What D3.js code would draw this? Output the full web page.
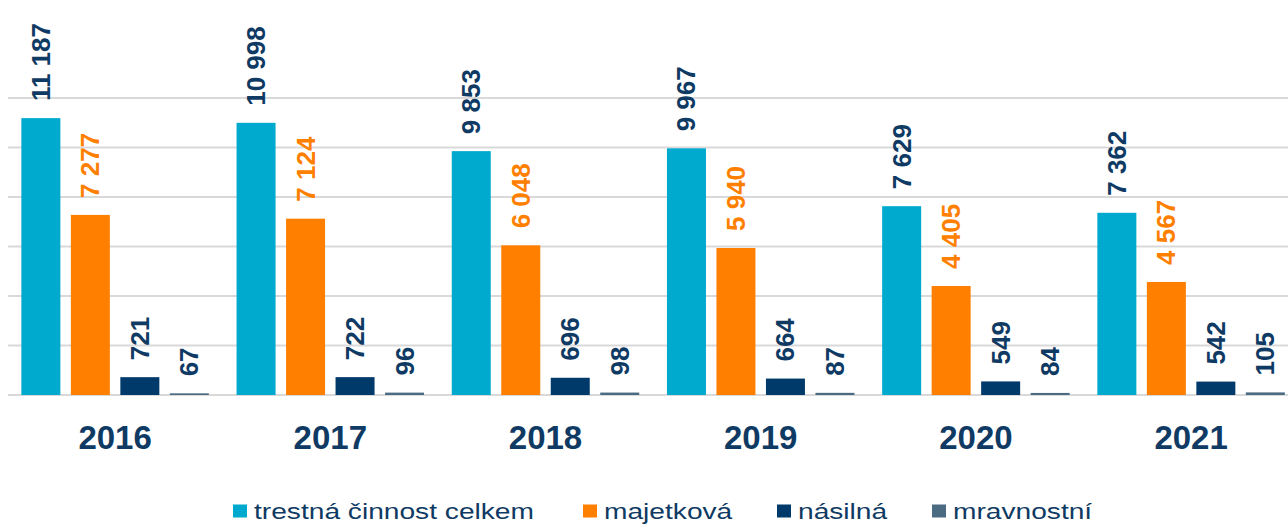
<!DOCTYPE html>
<html>
<head>
<meta charset="utf-8">
<script src="https://cdn.jsdelivr.net/npm/d3@7"></script>
<style>
  body { margin: 0; background: #fff; }
  text { font-family: "Liberation Sans", Arial, sans-serif; }
</style>
</head>
<body>
<svg id="chart" width="1288" height="525"></svg>
<script>
'use strict'

// data
var years = ['2016', '2017', '2018', '2019', '2020', '2021'];
var seriesNames = ['trestná činnost celkem', 'majetková', 'násilná', 'mravnostní'];
var celkem = [11187, 10998, 9853, 9967, 7629, 7362];
var majetkova = [7277, 7124, 6048, 5940, 4405, 4567];
var nasilna = [721, 722, 696, 664, 549, 542];
var mravnostni = [67, 96, 98, 87, 84, 105];
var yTicks = [0, 2000, 4000, 6000, 8000, 10000, 12000];

var barColors = ['#00a9ce', '#ff7f00', '#003a6b', '#4a6b82'];
var labelColors = ['#0f3a63', '#ff7f00', '#0f3a63', '#0f3a63'];
var textNavy = '#0f3a63';

var seriesValues = [celkem, majetkova, nasilna, mravnostni];

var svg = d3.select('#chart');

var x = d3.scaleBand()
  .domain(years)
  .range([7.5, 1298.7])
  .paddingInner(0)
  .paddingOuter(0);

var xs = d3.scaleBand()
  .domain(seriesNames)
  .range([0, x.bandwidth()])
  .paddingInner(0.212)
  .paddingOuter(0.28);

var y = d3.scaleLinear()
  .domain([0, 12000])
  .range([395, 98]);

// gridlines
svg.append('g')
  .selectAll('line')
  .data(yTicks)
  .enter()
  .append('line')
  .attr('x1', 8)
  .attr('x2', 1288)
  .attr('y1', function(d){ return y(d); })
  .attr('y2', function(d){ return y(d); })
  .attr('stroke', '#d9d9d9')
  .attr('stroke-width', 2);

// bars + labels
var group = svg.selectAll('g.year')
  .data(years)
  .enter()
  .append('g')
  .attr('class', 'year')
  .attr('transform', function(d){ return 'translate(' + x(d) + ',0)'; });

seriesNames.forEach(function(name, si){
  group.append('rect')
    .attr('x', xs(name))
    .attr('width', xs.bandwidth())
    .attr('y', function(d, i){ return y(seriesValues[si][i]); })
    .attr('height', function(d, i){ return y(0) - y(seriesValues[si][i]); })
    .attr('fill', barColors[si]);

  group.append('text')
    .attr('transform', function(d, i){
      var cx = xs(name) + xs.bandwidth() / 2 + 9;
      var cy = y(seriesValues[si][i]) - 17;
      return 'translate(' + cx + ',' + cy + ') rotate(-90)';
    })
    .attr('text-anchor', 'start')
    .style('font-size', '26px')
    .style('font-weight', 'bold')
    .attr('fill', labelColors[si])
    .text(function(d, i){
      return d3.format(',')(seriesValues[si][i]).replace(/,/g, ' ');
    });
});

// year labels
group.append('text')
  .attr('x', x.bandwidth() / 2)
  .attr('y', 449)
  .attr('text-anchor', 'middle')
  .style('font-size', '33px')
  .style('font-weight', 'bold')
  .attr('fill', textNavy)
  .text(function(d){ return d; });

// legend (text is stretched wide in the original)
var legendX = [233, 583, 777, 932];
var legend = svg.selectAll('g.legend')
  .data(seriesNames)
  .enter()
  .append('g')
  .attr('class', 'legend')
  .attr('transform', function(d, i){ return 'translate(' + legendX[i] + ',511)'; });

legend.append('rect')
  .attr('x', 0)
  .attr('y', -6.5)
  .attr('width', 14)
  .attr('height', 13)
  .attr('fill', function(d, i){ return barColors[i]; });

legend.append('text')
  .attr('transform', 'translate(21,8) scale(1.28,1)')
  .style('font-size', '22px')
  .attr('fill', textNavy)
  .text(function(d){ return d; });
</script>
</body>
</html>
